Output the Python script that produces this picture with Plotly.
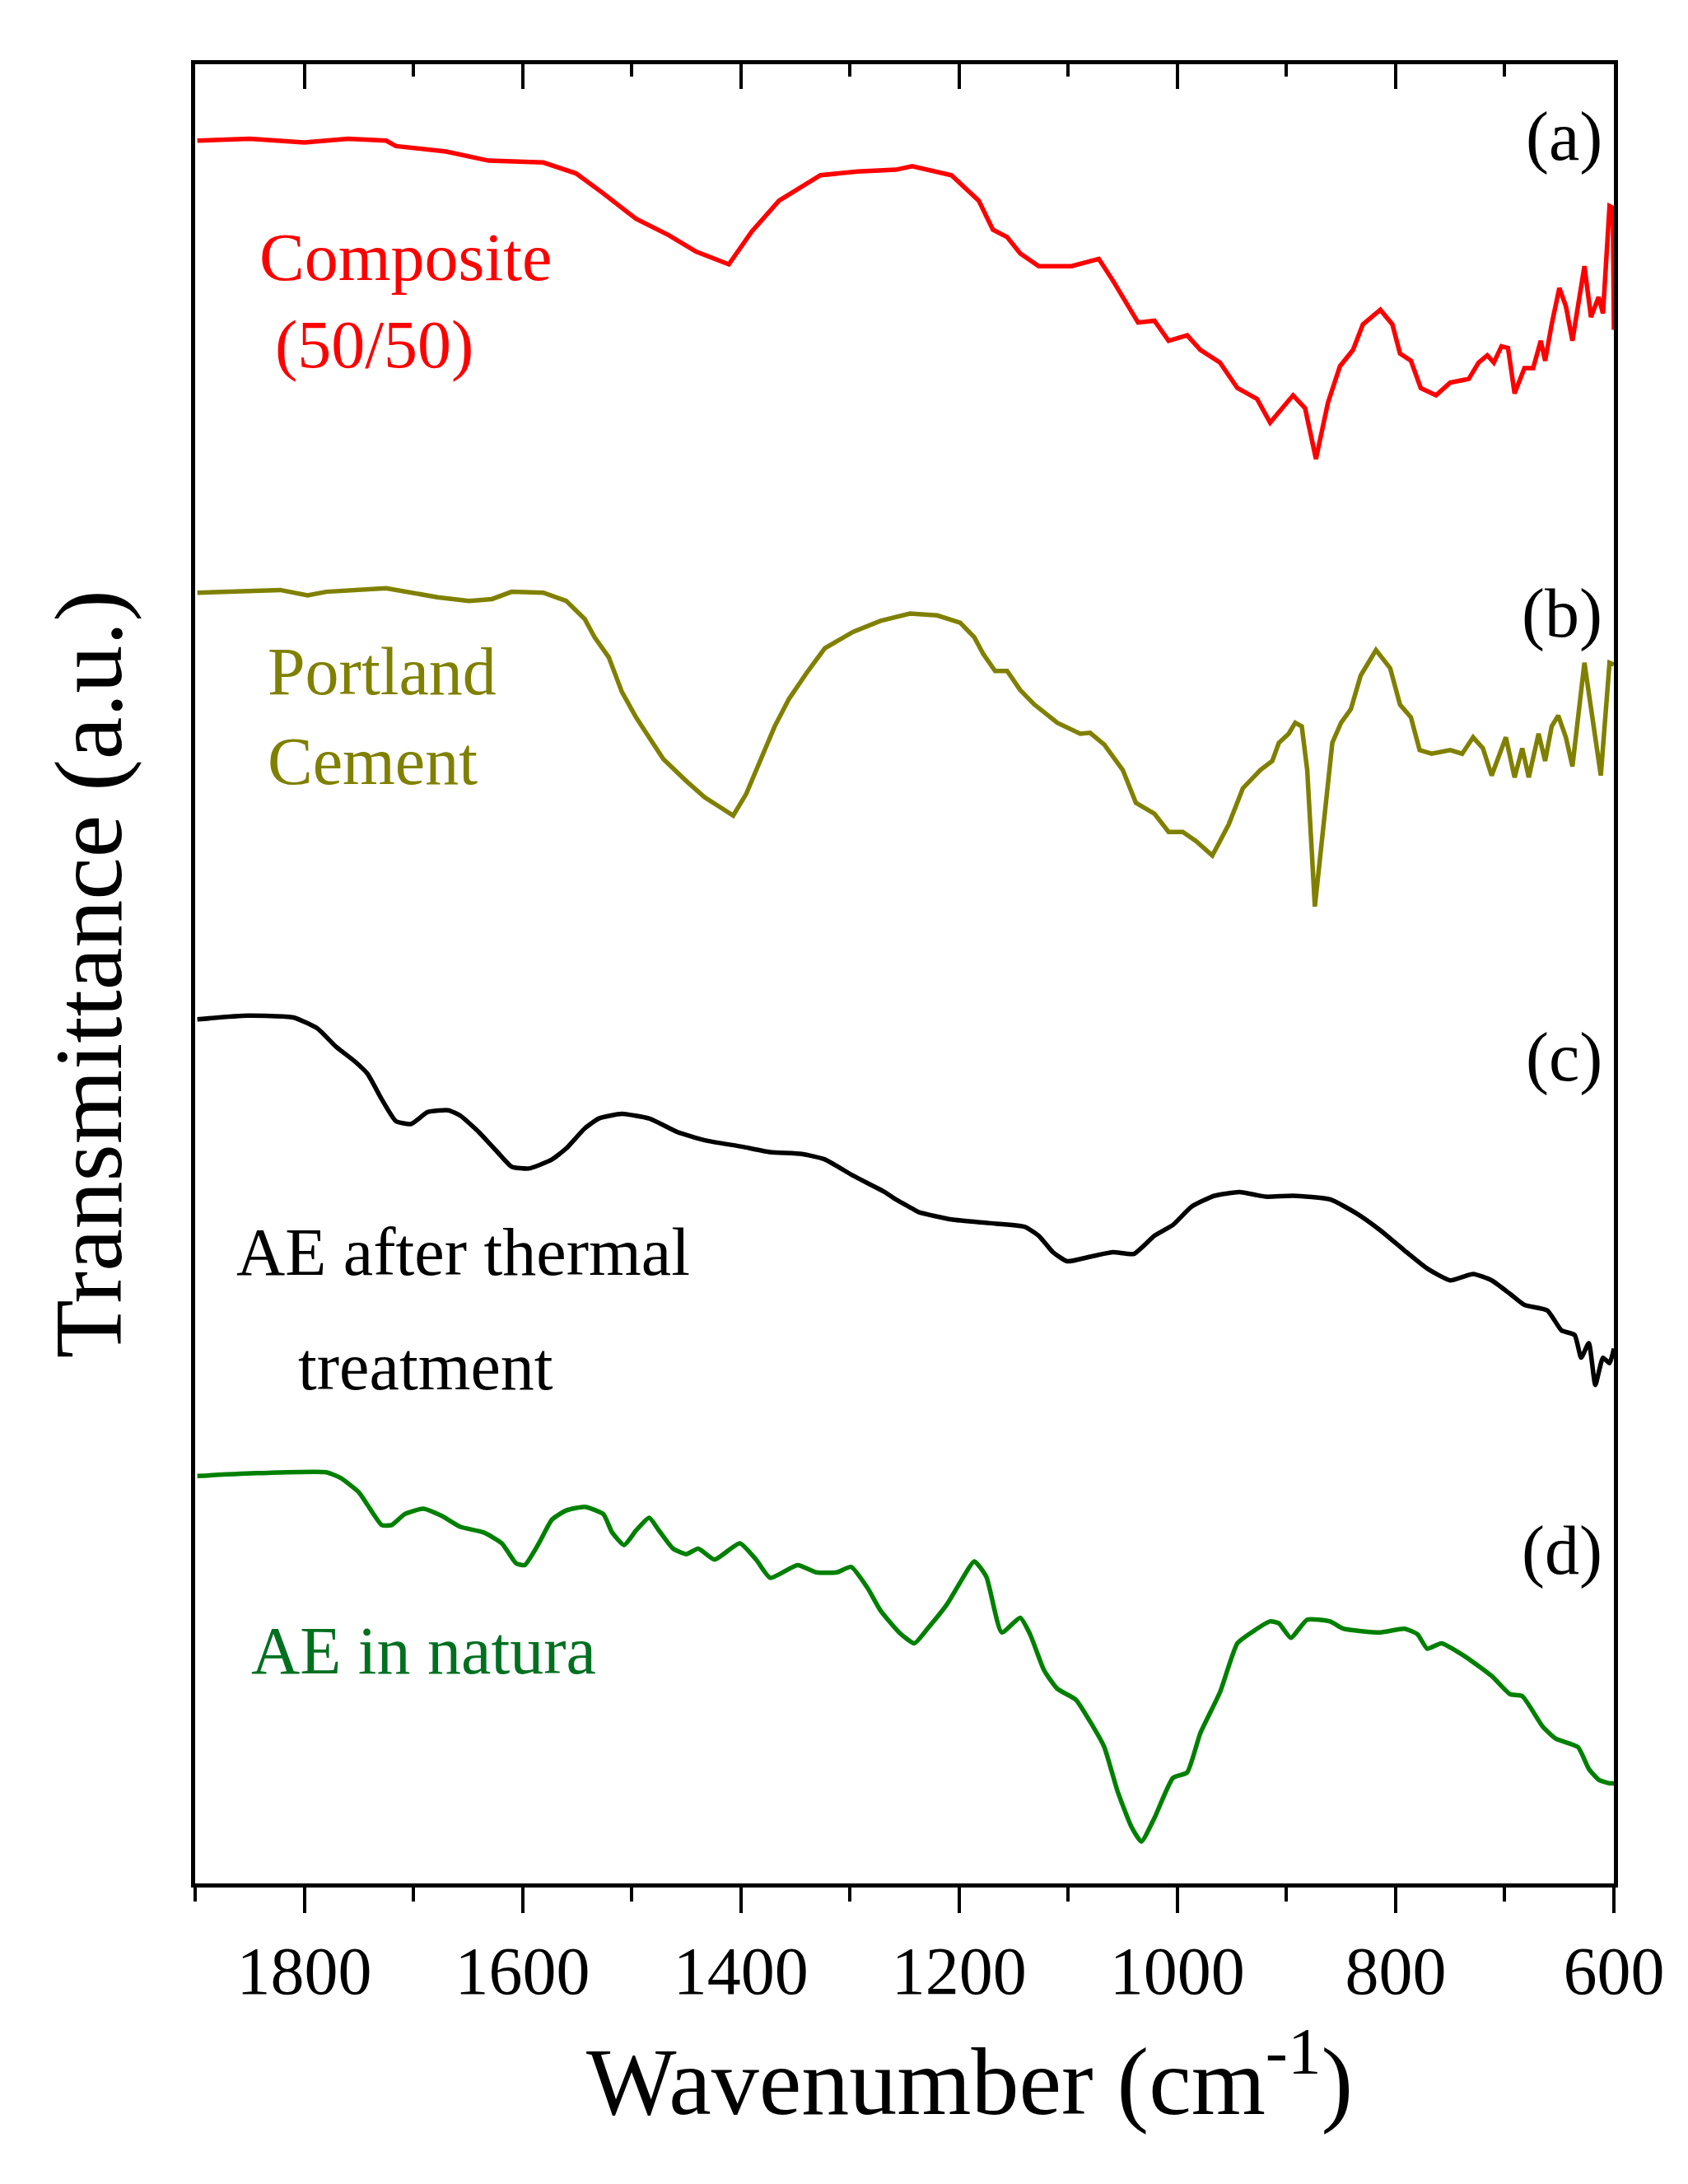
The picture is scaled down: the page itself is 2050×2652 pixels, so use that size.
import plotly.graph_objects as go

# ---------------------------------------------------------------------------
# spectra (wavenumber in cm-1, transmittance in a.u.)
wn_a = [1898, 1850, 1800, 1760, 1725, 1716, 1670, 1631, 1581, 1551, 1526, 1496, 1466, 1441, 1411,
        1390, 1365, 1327, 1293, 1258, 1243, 1207, 1182, 1169, 1156, 1144, 1127, 1097, 1072, 1059,
        1036, 1021, 1008, 991, 979, 961, 945, 927, 915, 894, 883, 873, 862, 851, 839, 830, 814,
        803, 796, 786, 777, 763, 750, 733, 724, 716, 710, 703, 697, 691, 682, 674, 667, 663, 657,
        650, 644, 638, 627, 621, 614, 610, 604, 601, 600]
t_a = [95.8, 95.9, 95.7, 95.9, 95.8, 95.5, 95.2, 94.7, 94.6, 94.0, 92.9, 91.5, 90.6, 89.7, 89.0,
       90.8, 92.5, 93.9, 94.1, 94.2, 94.4, 93.9, 92.5, 90.9, 90.5, 89.6, 88.9, 88.9, 89.3, 88.1,
       85.8, 85.9, 84.8, 85.1, 84.3, 83.6, 82.2, 81.6, 80.3, 81.8, 81.1, 78.3, 81.4, 83.4, 84.3,
       85.7, 86.5, 85.7, 84.1, 83.7, 82.2, 81.8, 82.5, 82.7, 83.6, 84.0, 83.6, 84.5, 84.4, 81.9,
       83.3, 83.3, 84.8, 83.7, 85.7, 87.7, 86.7, 84.8, 88.9, 86.1, 87.2, 86.3, 92.2, 92.1, 85.4]

wn_b = [1898, 1822, 1797, 1780, 1725, 1678, 1649, 1628, 1610, 1581, 1560, 1543, 1534, 1521, 1509,
        1496, 1483, 1471, 1450, 1433, 1420, 1407, 1395, 1382, 1369, 1356, 1339, 1323, 1297, 1272,
        1245, 1220, 1199, 1186, 1178, 1167, 1156, 1144, 1131, 1110, 1089, 1080, 1067, 1050, 1038,
        1021, 1008, 995, 983, 968, 953, 940, 924, 913, 907, 898, 892, 886, 881, 874, 866, 858,
        850, 841, 832, 818, 805, 796, 786, 778, 767, 750, 739, 729, 720, 712, 699, 691, 684, 678,
        669, 663, 657, 651, 644, 638, 627, 619, 612, 604, 600]
t_b = [70.95, 71.1, 70.8, 71.0, 71.2, 70.7, 70.5, 70.6, 71.0, 70.95, 70.5, 69.5, 68.5, 67.4, 65.5,
       64.1, 62.9, 61.8, 60.6, 59.7, 59.2, 58.7, 59.9, 61.8, 63.6, 65.1, 66.6, 67.9, 68.8, 69.4,
       69.8, 69.7, 69.3, 68.5, 67.6, 66.65, 66.65, 65.6, 64.8, 63.8, 63.2, 63.25, 62.6, 61.2, 59.4,
       58.8, 57.8, 57.8, 57.3, 56.5, 58.2, 60.2, 61.2, 61.7, 62.7, 63.2, 63.8, 63.6, 61.2, 53.7,
       58.2, 62.7, 63.8, 64.55, 66.4, 67.8, 66.8, 64.8, 64.1, 62.3, 62.1, 62.3, 62.1, 63.0, 62.4,
       60.9, 63.0, 60.8, 62.4, 60.8, 63.2, 61.7, 63.6, 64.2, 63.0, 61.4, 67.1, 63.6, 60.9, 67.1, 67.0]

wn_c = [1898, 1852, 1810, 1788, 1771, 1754, 1742, 1729, 1716, 1702, 1687, 1668, 1657, 1640, 1623,
        1610, 1594, 1573, 1560, 1543, 1530, 1509, 1484, 1458, 1433, 1399, 1373, 1344, 1323, 1297,
        1268, 1258, 1243, 1237, 1207, 1173, 1140, 1127, 1114, 1101, 1080, 1059, 1040, 1021, 1004,
        987, 966, 943, 919, 894, 860, 835, 814, 792, 771, 750, 729, 712, 695, 682, 661, 648, 636,
        630, 623, 617, 610, 604, 600]
t_c = [47.5, 47.7, 47.6, 47.0, 46.0, 45.2, 44.5, 43.1, 41.9, 41.75, 42.4, 42.5, 42.2, 41.3, 40.2,
       39.4, 39.3, 39.8, 40.4, 41.5, 42.05, 42.3, 42.05, 41.3, 40.85, 40.5, 40.2, 40.1, 39.8, 38.9,
       38.0, 37.6, 37.1, 36.9, 36.5, 36.3, 36.1, 35.6, 34.7, 34.2, 34.45, 34.7, 34.6, 35.6, 36.2,
       37.2, 37.8, 38.0, 37.75, 37.8, 37.6, 36.8, 35.9, 34.8, 33.8, 33.15, 33.5, 33.15, 32.4, 31.8,
       31.5, 30.4, 30.15, 28.9, 29.7, 27.4, 28.9, 28.6, 29.4]

wn_d = [1898, 1843, 1780, 1767, 1750, 1742, 1729, 1720, 1708, 1691, 1674, 1657, 1636, 1619, 1606,
        1598, 1585, 1573, 1560, 1543, 1526, 1518, 1507, 1496, 1484, 1475, 1462, 1450, 1439, 1424,
        1401, 1386, 1373, 1348, 1331, 1312, 1299, 1284, 1272, 1255, 1241, 1229, 1211, 1199, 1186,
        1175, 1161, 1144, 1135, 1122, 1110, 1093, 1080, 1067, 1055, 1042, 1033, 1021, 1004, 991,
        979, 961, 945, 932, 915, 907, 896, 881, 860, 848, 814, 792, 780, 771, 758, 737, 712, 695,
        684, 665, 653, 633, 623, 614, 604, 600]
t_d = [22.4, 22.55, 22.6, 22.3, 21.5, 20.8, 19.7, 19.7, 20.3, 20.6, 20.2, 19.6, 19.3, 18.7, 17.6,
       17.5, 18.7, 20.0, 20.5, 20.7, 20.3, 19.3, 18.6, 19.4, 20.1, 19.4, 18.4, 18.1, 18.4, 17.8,
       18.7, 17.8, 16.8, 17.5, 17.1, 17.1, 17.4, 16.25, 15.0, 13.8, 13.2, 14.0, 15.35, 16.55, 17.7,
       16.85, 13.8, 14.6, 13.7, 11.7, 10.7, 10.1, 8.9, 7.5, 5.1, 3.1, 2.3, 3.6, 5.8, 6.1,
       8.25, 10.5, 13.2, 13.8, 14.4, 14.3, 13.5, 14.5, 14.4, 14.0, 13.8, 14.0, 13.7, 12.9, 13.2, 12.5,
       11.4, 10.4, 10.3, 8.6, 7.95, 7.5, 6.3, 5.7, 5.5, 5.5]

x_range = [1900, 600]
major_ticks = [1800, 1600, 1400, 1200, 1000, 800, 600]

FONT = "Liberation Serif"

# ---------------------------------------------------------------------------
fig = go.Figure()
series = [
    (wn_a, t_a, 'red', 'linear'),
    (wn_b, t_b, '#808000', 'linear'),
    (wn_c, t_c, 'black', 'spline'),
    (wn_d, t_d, '#008000', 'spline'),
]
for wn, t, col, shape in series:
    fig.add_trace(go.Scatter(x=wn, y=t, mode='lines', line=dict(color=col, width=5.5, shape=shape, smoothing=0.5),
                             showlegend=False, hoverinfo='skip'))
# invisible copy on the top axis so it is laid out with its ticks
fig.add_trace(go.Scatter(x=wn_d, y=t_d, mode='lines', line=dict(width=0), opacity=0,
                         xaxis='x2', showlegend=False, hoverinfo='skip'))

fig.update_layout(
    width=2050,
    height=2652,
    autosize=False,
    margin=dict(l=229, r=98, t=70, b=373),
    plot_bgcolor='white',
    paper_bgcolor='white',
    font=dict(family=FONT, color='black'),
    xaxis=dict(
        range=x_range,
        tickmode='array', tickvals=major_ticks,
        ticks='outside', ticklen=31, tickwidth=4, tickcolor='black',
        minor=dict(dtick=100, ticks='outside', ticklen=17, tickwidth=4, tickcolor='black'),
        showline=True, linewidth=5, linecolor='black',
        showgrid=False, zeroline=False,
        tickfont=dict(family=FONT, size=82, color='black'),
    ),
    # top frame with ticks pointing into the plot
    xaxis2=dict(
        range=x_range, overlaying='x', side='top', anchor='y',
        tickmode='array', tickvals=major_ticks,
        ticks='inside', ticklen=30, tickwidth=4, tickcolor='black',
        minor=dict(dtick=100, ticks='inside', ticklen=15, tickwidth=4, tickcolor='black'),
        showline=True, linewidth=5, linecolor='black',
        showticklabels=False, showgrid=False, zeroline=False,
    ),
    yaxis=dict(
        range=[0, 100],
        showline=True, mirror=True, linewidth=5, linecolor='black',
        ticks='', showticklabels=False, showgrid=False, zeroline=False,
    ),
)

# curve names
labels = [
    ("Composite", 1843, 89.4, 'red'),
    ("(50/50)", 1828, 84.6, 'red'),
    ("Portland", 1835, 66.6, '#808000'),
    ("Cement", 1835, 61.7, '#808000'),
    ("AE after thermal", 1864, 34.7, 'black'),
    ("treatment", 1807, 28.4, 'black'),
    ("AE in natura", 1850, 12.8, '#007020'),
]
for txt, x, y, col in labels:
    fig.add_annotation(text=txt, x=x, y=y, xref='x', yref='y', xanchor='left', yanchor='middle',
                       showarrow=False, font=dict(family=FONT, size=82, color=col))

# panel letters
for txt, y in [("(a)", 96.0), ("(b)", 69.8), ("(c)", 45.4), ("(d)", 18.3)]:
    fig.add_annotation(text=txt, x=609, y=y, xref='x', yref='y', xanchor='right', yanchor='middle',
                       showarrow=False, font=dict(family=FONT, size=84, color='black'))

# axis titles
fig.add_annotation(text="Wavenumber (cm<sup>-1</sup>)", x=0.546, y=-0.105, xref='paper', yref='paper',
                   xanchor='center', yanchor='middle', showarrow=False,
                   font=dict(family=FONT, size=116, color='black'))
fig.add_annotation(text="Transmittance (a.u.)", x=-0.075, y=0.5, xref='paper', yref='paper',
                   xanchor='center', yanchor='middle', textangle=-90, showarrow=False,
                   font=dict(family=FONT, size=116, color='black'))

fig.write_html("out.html")
